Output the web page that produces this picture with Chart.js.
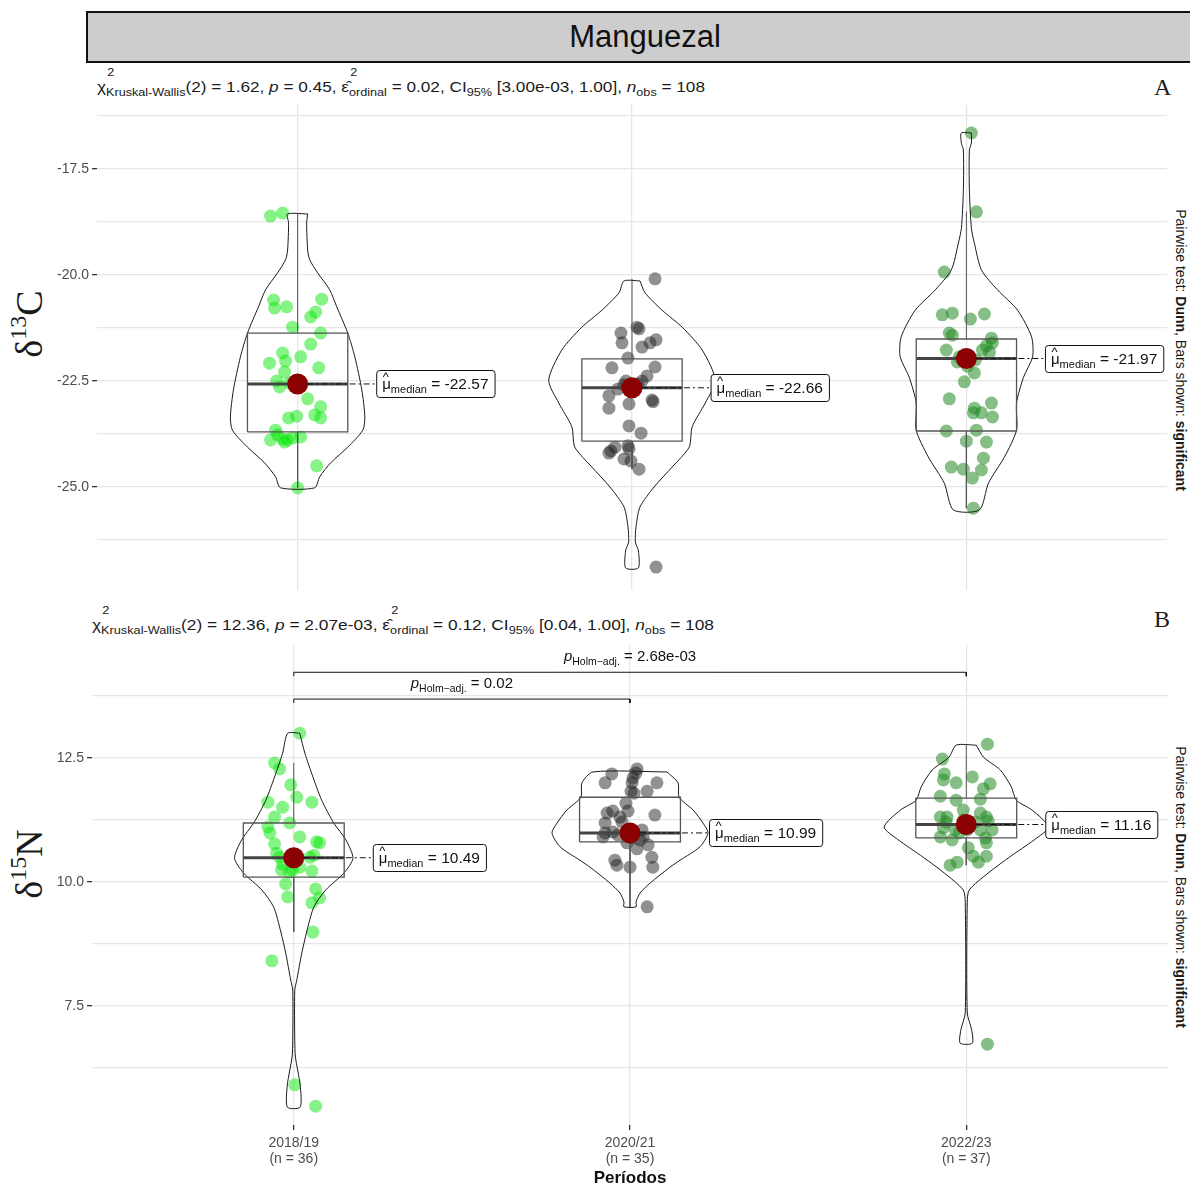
<!DOCTYPE html>
<html>
<head>
<meta charset="utf-8">
<script src="https://cdn.jsdelivr.net/npm/chart.js@4.4.1/dist/chart.umd.min.js"></script>
<style>
html,body{margin:0;padding:0;background:#fff;}
body{width:1190px;height:1187px;overflow:hidden;position:relative;font-family:"Liberation Sans",Arial,sans-serif;color:#1a1a1a;}
.abs{position:absolute;}
#strip{left:86px;top:11px;width:1118px;height:52px;box-sizing:border-box;border:2.5px solid #111;background:#cdcdcd;display:flex;align-items:center;justify-content:center;font-size:31px;color:#111;}
.sub{white-space:nowrap;font-size:15px;line-height:18px;transform-origin:0 0;}
.stk{display:inline-block;position:relative;}
.stk .t{position:absolute;left:1px;top:-11px;font-size:11px;line-height:11px;}
.stk .b{font-size:11px;position:relative;top:4px;}
.sb{font-size:11px;position:relative;top:4px;}
.lab{font-family:"Liberation Serif","Times New Roman",serif;font-size:24px;}
.ytitle{font-family:"Liberation Serif","Times New Roman",serif;font-size:38px;white-space:nowrap;transform:translate(-50%,-50%) rotate(-90deg);}
.ytitle sup{font-size:24px;position:relative;top:-1px;vertical-align:top;line-height:24px;}
.rtext{font-size:14px;white-space:nowrap;transform:translate(-50%,-50%) rotate(90deg);}
canvas{position:absolute;left:0;}
</style>
</head>
<body>
<div id="strip" class="abs">Manguezal</div>

<div id="subA" class="abs sub" style="left:97px;top:78px;">χ<span class="stk"><span class="t">2</span><span class="b">Kruskal-Wallis</span></span>(2) = 1.62, <i>p</i> = 0.45, ε̂<span class="stk"><span class="t">2</span><span class="b">ordinal</span></span> = 0.02, CI<span class="sb">95%</span> [3.00e-03, 1.00], <i>n</i><span class="sb">obs</span> = 108</div>
<div class="abs lab" style="left:1154px;top:74px;">A</div>

<div id="subB" class="abs sub" style="left:92px;top:616px;">χ<span class="stk"><span class="t">2</span><span class="b">Kruskal-Wallis</span></span>(2) = 12.36, <i>p</i> = 2.07e-03, ε̂<span class="stk"><span class="t">2</span><span class="b">ordinal</span></span> = 0.12, CI<span class="sb">95%</span> [0.04, 1.00], <i>n</i><span class="sb">obs</span> = 108</div>
<div class="abs lab" style="left:1154px;top:606px;">B</div>

<div class="abs ytitle" style="left:29px;top:324px;">δ<sup>13</sup>C</div>
<div class="abs ytitle" style="left:29px;top:864px;">δ<sup>15</sup>N</div>

<div class="abs rtext" style="left:1181px;top:350px;">Pairwise test: <b>Dunn</b>, Bars shown: <b>significant</b></div>
<div class="abs rtext" style="left:1181px;top:887px;">Pairwise test: <b>Dunn</b>, Bars shown: <b>significant</b></div>

<canvas id="cA" width="1190" height="500" style="top:100px;width:1190px;height:500px;"></canvas>
<canvas id="cB" width="1190" height="547" style="top:640px;width:1190px;height:547px;"></canvas>

<script>
// ---------------- DATA ----------------
const categories = ['2018/19', '2020/21', '2022/23'];
const groupSizes = [36, 35, 37];

// y-axis ticks
const ticksC_major = [-25.0, -22.5, -20.0, -17.5];
const ticksC_minor = [-26.25, -23.75, -21.25, -18.75, -16.25];
const ticksN_major = [7.5, 10.0, 12.5];
const ticksN_minor = [6.25, 8.75, 11.25, 13.75];

// δ13C observations (value) and horizontal jitter (offset from category)
const c13_g1 = [-18.61,-18.54,-20.59,-20.78,-20.75,-20.57,-20.87,-20.99,-21.23,-21.37,-21.63,-21.84,-22.03,-21.93,-22.08,-22.19,-22.29,-22.50,-22.64,-22.92,-23.11,-23.30,-23.37,-23.37,-23.33,-23.66,-23.77,-23.89,-23.87,-23.89,-23.84,-23.82,-23.94,-24.50,-25.02,-22.55];
const c13_g1_jit = [-0.081,-0.045,-0.072,-0.069,-0.033,0.072,0.054,0.039,-0.015,0.069,0.039,-0.045,-0.036,0.009,-0.084,0.063,-0.039,-0.063,-0.054,0.030,0.069,0.051,0.069,-0.027,-0.003,-0.066,-0.060,-0.081,-0.045,-0.030,-0.015,0.009,-0.039,0.057,0.000,-0.024];
const c13_g2 = [-20.09,-21.37,-21.23,-21.27,-21.60,-21.70,-21.60,-21.53,-21.96,-22.19,-22.17,-22.38,-22.50,-22.59,-22.64,-22.85,-22.95,-22.99,-23.14,-23.04,-23.56,-23.73,-24.06,-24.15,-24.20,-24.03,-24.10,-24.34,-24.39,-24.58,-26.89,-22.50,-22.57,-22.76,-22.69];
const c13_g2_jit = [0.069,-0.033,0.015,0.021,-0.030,0.030,0.054,0.072,-0.012,-0.060,0.069,0.045,0.030,-0.024,-0.009,-0.069,0.060,0.063,-0.069,-0.009,-0.009,0.027,-0.051,-0.063,-0.069,-0.012,-0.009,-0.024,-0.003,0.021,0.072,-0.018,0.018,0.000,-0.042];
const c13_g3 = [-16.65,-18.51,-19.93,-20.94,-20.90,-21.04,-20.92,-21.37,-21.42,-21.49,-21.60,-21.67,-21.77,-21.77,-22.31,-22.52,-22.92,-23.14,-23.25,-23.25,-23.02,-23.35,-23.68,-23.66,-23.92,-23.94,-24.32,-24.53,-24.58,-24.60,-24.79,-25.50,-21.93,-22.00,-22.05,-21.82,-22.15];
const c13_g3_jit = [0.015,0.030,-0.066,-0.072,-0.042,0.012,0.054,-0.051,-0.042,0.075,0.078,0.060,0.048,-0.060,0.024,-0.006,-0.051,0.024,0.021,0.045,0.075,0.078,-0.060,0.030,0.000,0.060,0.051,-0.045,-0.009,0.045,0.018,0.021,-0.021,0.027,-0.027,0.069,0.003];

// δ15N observations and jitter
const n15_g1 = [13.00,12.40,12.28,11.96,11.71,11.61,11.61,11.51,11.31,11.19,11.11,10.99,10.91,10.81,10.79,10.77,10.58,10.54,10.36,10.24,10.20,10.30,10.22,9.96,9.86,9.70,9.68,9.58,8.99,8.41,5.91,5.48,10.50,10.48,10.50,10.24];
const n15_g1_jit = [0.018,-0.057,-0.042,-0.009,0.009,0.054,-0.077,-0.033,-0.057,-0.012,-0.077,-0.071,0.018,0.068,0.077,-0.057,-0.051,0.060,-0.033,-0.036,-0.012,0.018,0.054,-0.024,0.065,-0.018,0.077,0.054,0.057,-0.065,0.003,0.065,-0.042,-0.012,0.048,-0.003];
const n15_g2 = [12.28,12.20,12.18,12.10,12.00,12.00,12.00,11.83,11.83,11.79,11.59,11.39,11.43,11.43,11.35,11.31,11.19,11.21,10.99,10.85,10.91,10.79,10.75,10.67,10.50,10.44,10.34,10.30,10.30,9.50,10.95,11.01,10.89,10.91,11.05];
const n15_g2_jit = [0.021,0.018,-0.054,0.009,-0.074,0.080,0.006,0.003,0.051,0.012,-0.012,-0.068,-0.051,-0.006,0.074,-0.030,-0.074,-0.024,-0.074,0.030,-0.080,-0.009,0.054,0.021,0.065,-0.045,-0.039,0.000,0.068,0.051,-0.036,-0.051,0.006,0.039,0.036];
const n15_g3 = [12.78,12.48,12.18,12.06,12.00,12.12,11.98,11.88,11.73,11.65,11.67,11.31,11.31,11.21,11.39,11.31,11.23,11.05,11.09,10.91,10.85,10.99,10.89,10.79,10.69,10.52,10.52,10.40,10.40,10.34,6.73,11.25,11.21,11.05,11.05,11.05,11.45];
const n15_g3_jit = [0.063,-0.071,-0.065,-0.068,-0.030,0.018,0.071,0.051,-0.077,-0.030,0.042,-0.077,-0.057,-0.060,0.042,0.060,0.065,0.077,-0.068,-0.077,-0.042,-0.021,0.057,0.060,0.006,0.021,0.060,0.036,-0.027,-0.048,0.063,-0.009,0.027,-0.033,0.042,0.003,-0.009];

// medians
const medC = [-22.57, -22.66, -21.97];
const medN = [10.49, 10.99, 11.16];
// box statistics
const q1C = [-23.70, -23.92, -23.68];
const q3C = [-21.37, -21.98, -21.51];
const whLoC = [-25.02, -24.58, -25.50];
const whHiC = [-18.54, -20.09, -18.51];
const q1N = [10.10, 10.81, 10.89];
const q3N = [11.19, 11.71, 11.69];
const whLoN = [8.99, 9.50, 10.34];
const whHiN = [12.40, 12.28, 12.78];

// violin density outlines: levels (y) and half-widths (x units)
const vC1_y = [-18.56,-18.77,-19.41,-19.64,-19.95,-20.35,-20.75,-21.37,-21.93,-22.71,-23.35,-23.66,-24.06,-24.43,-24.76,-25.02];
const vC1_w = [0.030,0.027,0.030,0.036,0.060,0.096,0.117,0.150,0.171,0.192,0.201,0.195,0.150,0.099,0.066,0.051];
const vC2_y = [-20.14,-20.42,-20.83,-21.23,-21.77,-22.48,-23.02,-23.58,-24.06,-24.53,-25.00,-25.47,-25.94,-26.30,-26.50,-26.91];
const vC2_w = [0.024,0.039,0.090,0.150,0.210,0.249,0.219,0.180,0.171,0.120,0.066,0.024,0.012,0.010,0.019,0.019];
const vC3_y = [-16.65,-16.89,-17.05,-18.00,-18.90,-19.25,-19.88,-20.35,-20.83,-21.46,-21.93,-22.41,-23.02,-23.66,-24.29,-24.91,-25.54];
const vC3_w = [0.015,0.015,0.009,0.009,0.015,0.024,0.045,0.093,0.153,0.195,0.198,0.171,0.150,0.150,0.114,0.066,0.039];
const vN1_y = [13.00,12.60,12.12,11.65,11.19,10.85,10.48,10.18,9.84,9.50,9.09,8.57,8.02,7.82,6.81,6.47,5.91,5.46];
const vN1_w = [0.018,0.033,0.057,0.083,0.119,0.155,0.176,0.149,0.095,0.060,0.042,0.024,0.009,0.003,0.003,0.005,0.019,0.019];
const vN2_y = [12.22,12.00,11.71,11.45,11.19,10.99,10.71,10.44,10.30,9.98,9.78,9.60,9.50];
const vN2_w = [0.110,0.143,0.146,0.188,0.217,0.232,0.208,0.149,0.119,0.060,0.030,0.018,0.018];
const vN3_y = [12.76,12.52,12.26,11.92,11.65,11.45,11.11,10.85,10.50,10.18,9.84,9.58,7.36,7.02,6.75];
const vN3_w = [0.030,0.051,0.101,0.134,0.149,0.196,0.244,0.202,0.128,0.065,0.009,0.003,0.003,0.016,0.018];

// pairwise (Dunn, Holm-adjusted) significant comparisons
const sigPairs = [[1, 2], [1, 3]];
const sigP = ['0.02', '2.68e-03'];

// ---------------- LAYOUT / STYLE ----------------
const pointColors = ['rgba(0,230,0,0.48)', 'rgba(25,25,25,0.48)', 'rgba(34,139,34,0.55)'];
const sigLevels = [13.69, 14.23];   // bar heights in panel B
const FONT = '"Liberation Sans", Arial, sans-serif';

function violinPts(cx, ys, ws) {
  const p = [];
  for (let i = 0; i < ys.length; i++) p.push({x: cx + ws[i], y: ys[i]});
  for (let i = ys.length - 1; i >= 0; i--) p.push({x: cx - ws[i], y: ys[i]});
  p.push({x: cx + ws[0], y: ys[0]});
  return p;
}
function lineDS(data, color, width, order, tension) {
  return {type: 'scatter', data, showLine: true, borderColor: color, borderWidth: width,
    pointRadius: 0, fill: false, tension: tension || 0, order};
}

function buildDatasets(groups, jits, violins, q1, q3, med, lo, hi) {
  const ds = [];
  for (let g = 0; g < 3; g++) {
    const cx = g + 1;
    ds.push({type: 'scatter', data: groups[g].map((v, i) => ({x: cx + jits[g][i], y: v})),
      pointRadius: 6.5, pointBackgroundColor: pointColors[g], pointBorderWidth: 0, order: 5});
    ds.push(lineDS(violinPts(cx, violins[g][0], violins[g][1]), '#1a1a1a', 1, 4, 0.25));
    const bw = 0.15;
    ds.push(lineDS([{x: cx - bw, y: q1[g]}, {x: cx + bw, y: q1[g]}, {x: cx + bw, y: q3[g]}, {x: cx - bw, y: q3[g]}, {x: cx - bw, y: q1[g]}], '#555', 1.3, 3));
    ds.push(lineDS([{x: cx, y: q3[g]}, {x: cx, y: hi[g]}], '#555', 1, 3));
    ds.push(lineDS([{x: cx, y: q1[g]}, {x: cx, y: lo[g]}], '#555', 1, 3));
    ds.push(lineDS([{x: cx - bw, y: med[g]}, {x: cx + bw, y: med[g]}], '#444', 3, 2));
  }
  ds.push({type: 'scatter', data: med.map((m, g) => ({x: g + 1, y: m})), pointRadius: 10.5,
    pointBackgroundColor: '#8b0000', pointBorderWidth: 0, order: 0});
  return ds;
}

// rich text helper: segments [{t, size, italic, dy}]
function drawRich(ctx, segs, x, y, sx) {
  ctx.save();
  ctx.translate(x, y);
  ctx.scale(sx, 1);
  let cx = 0;
  for (const s of segs) {
    ctx.font = (s.italic ? 'italic ' : '') + s.size + 'px ' + FONT;
    ctx.fillText(s.t, cx, s.dy || 0);
    cx += ctx.measureText(s.t).width;
  }
  ctx.restore();
}
function richWidth(ctx, segs) {
  let w = 0;
  for (const s of segs) { ctx.font = (s.italic ? 'italic ' : '') + s.size + 'px ' + FONT; w += ctx.measureText(s.t).width; }
  return w;
}

const labelPlugin = {
  id: 'richLabels',
  afterDatasetsDraw(chart) {
    const o = chart.options.plugins.richLabels;
    const ctx = chart.ctx, xs = chart.scales.x, ys = chart.scales.y;
    ctx.save();
    ctx.textBaseline = 'alphabetic';
    ctx.fillStyle = '#111';
    // median labels
    o.medians.forEach((m, g) => {
      const px = xs.getPixelForValue(g + 1), py = ys.getPixelForValue(m);
      const bx = xs.getPixelForValue(g + 1 + 0.235);
      const segs = [{t: 'μ', size: 15}, {t: 'median', size: 11, dy: 4}, {t: ' = ' + m.toFixed(2), size: 15.5}];
      const w = richWidth(ctx, segs) + 12, h = 27;
      // dash-dot connector
      ctx.save();
      ctx.strokeStyle = '#111'; ctx.lineWidth = 1; ctx.setLineDash([6, 3, 2, 3]);
      ctx.beginPath(); ctx.moveTo(px + 10, py); ctx.lineTo(bx, py); ctx.stroke();
      ctx.restore();
      // box
      ctx.save();
      ctx.fillStyle = '#fff'; ctx.strokeStyle = '#111'; ctx.lineWidth = 1;
      ctx.beginPath(); ctx.roundRect(bx + 0.5, Math.round(py - h / 2) + 0.5, w, h, 3); ctx.fill(); ctx.stroke();
      ctx.restore();
      drawRich(ctx, segs, bx + 6, py + 5, 1);
      // hat over mu
      ctx.font = '13px ' + FONT;
      ctx.fillText('^', bx + 6.5, py - 3);
    });
    // significance labels
    (o.sig || []).forEach((s) => {
      const segs = [{t: 'p', size: 15, italic: true}, {t: 'Holm−adj.', size: 10.5, dy: 4}, {t: ' = ' + s.p, size: 15}];
      const sx = 1.0;
      const w = richWidth(ctx, segs) * sx;
      const px = xs.getPixelForValue(s.x), py = ys.getPixelForValue(s.y);
      drawRich(ctx, segs, px - w / 2, py - 11, sx);
    });
    ctx.restore();
  }
};

function makeYScale(min, max, major, minor, width) {
  const all = [...minor, ...major].sort((a, b) => a - b);
  const isMajor = (v) => major.some(m => Math.abs(m - v) < 1e-6);
  return {
    type: 'linear', min, max,
    afterBuildTicks: (s) => { s.ticks = all.map(v => ({value: v})); },
    afterFit: (s) => { s.width = width; s.paddingTop = 0; s.paddingBottom = 0; },
    ticks: {autoSkip: false, padding: 3, color: '#4d4d4d', font: {family: FONT, size: 14},
      callback: (v) => isMajor(v) ? v.toFixed(1) : ''},
    grid: {color: '#e6e6e6', lineWidth: 1.3, tickLength: 5,
      tickColor: (c) => (c.tick && isMajor(c.tick.value)) ? '#333' : 'rgba(0,0,0,0)'},
    border: {display: false}
  };
}

Chart.defaults.animation = false;

// Panel A : δ13C
new Chart(document.getElementById('cA'), {
  type: 'scatter',
  data: {datasets: buildDatasets([c13_g1, c13_g2, c13_g3], [c13_g1_jit, c13_g2_jit, c13_g3_jit],
    [[vC1_y, vC1_w], [vC2_y, vC2_w], [vC3_y, vC3_w]], q1C, q3C, medC, whLoC, whHiC)},
  options: {
    responsive: false, animation: false, events: [],
    layout: {autoPadding: false, padding: {left: 0, right: 23, top: 5, bottom: 10}},
    plugins: {legend: {display: false}, tooltip: {enabled: false},
      richLabels: {medians: medC}},
    scales: {
      x: {type: 'linear', min: 0.4, max: 3.6,
        afterBuildTicks: (s) => { s.ticks = [1, 2, 3].map(v => ({value: v})); },
        afterFit: (s) => { s.height = 0; s.paddingLeft = 0; s.paddingRight = 0; },
        ticks: {display: false}, grid: {color: '#e6e6e6', lineWidth: 1.3, drawTicks: false}, border: {display: false}},
      y: makeYScale(-27.43, -15.99, ticksC_major, ticksC_minor, 97)
    }
  },
  plugins: [labelPlugin]
});

// Panel B : δ15N
const dsB = buildDatasets([n15_g1, n15_g2, n15_g3], [n15_g1_jit, n15_g2_jit, n15_g3_jit],
  [[vN1_y, vN1_w], [vN2_y, vN2_w], [vN3_y, vN3_w]], q1N, q3N, medN, whLoN, whHiN);
sigPairs.forEach((pr, i) => {
  const yl = sigLevels[i];
  dsB.push(lineDS([{x: pr[0], y: yl - 0.08}, {x: pr[0], y: yl}, {x: pr[1], y: yl}, {x: pr[1], y: yl - 0.08}], '#111', 1, 3));
});
new Chart(document.getElementById('cB'), {
  type: 'scatter',
  data: {datasets: dsB},
  options: {
    responsive: false, animation: false, events: [],
    layout: {autoPadding: false, padding: {left: 0, right: 22, top: 5, bottom: 0}},
    plugins: {legend: {display: false}, tooltip: {enabled: false},
      richLabels: {medians: medN,
        sig: sigPairs.map((pr, i) => ({x: (pr[0] + pr[1]) / 2, y: sigLevels[i], p: sigP[i]}))}},
    scales: {
      x: {type: 'linear', min: 0.4, max: 3.6,
        afterBuildTicks: (s) => { s.ticks = [1, 2, 3].map(v => ({value: v})); },
        afterFit: (s) => { s.height = 62; s.paddingLeft = 0; s.paddingRight = 0; },
        ticks: {autoSkip: false, maxRotation: 0, padding: 5, color: '#4d4d4d', font: {family: FONT, size: 14, lineHeight: 1.15},
          callback: (v) => [categories[v - 1], '(n = ' + groupSizes[v - 1] + ')']},
        title: {display: true, text: 'Períodos', color: '#111', font: {family: FONT, size: 17, weight: 'bold', lineHeight: 1}, padding: {top: 0, bottom: 0}},
        grid: {color: '#e6e6e6', lineWidth: 1.3, tickLength: 5, tickColor: '#333'}, border: {display: false}},
      y: makeYScale(5.10, 14.78, ticksN_major, ticksN_minor, 92)
    }
  },
  plugins: [labelPlugin]
});

// fit subtitle widths to the reference
function fitWidth(id, target) {
  const el = document.getElementById(id);
  el.style.display = 'inline-block';
  const w = el.getBoundingClientRect().width;
  el.style.transform = 'scaleX(' + (target / w) + ')';
}
fitWidth('subA', 608);
fitWidth('subB', 622);
</script>
</body>
</html>
